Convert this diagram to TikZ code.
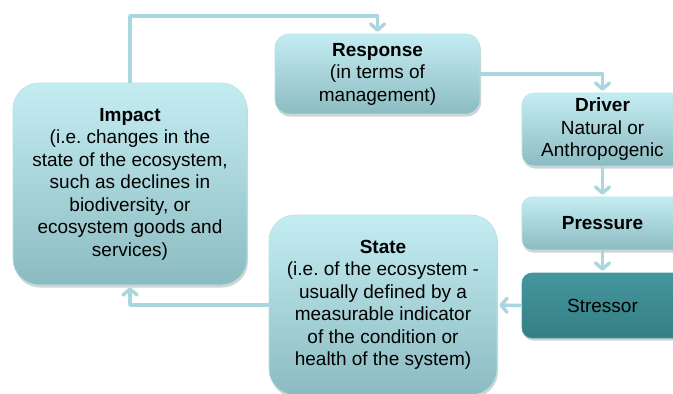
\documentclass[tikz,border=0pt]{standalone}
\usepackage{fontspec}
\setmainfont{Liberation Sans}
\usetikzlibrary{arrows.meta,shadows}
\definecolor{boxtop}{HTML}{C4EDF2}
\definecolor{boxbottom}{HTML}{8BBBC1}
\definecolor{boxedge}{HTML}{B5E2E8}
\definecolor{stresstop}{HTML}{44969C}
\definecolor{stressbottom}{HTML}{357F86}
\definecolor{flowblue}{HTML}{A9D7DF}
\frenchspacing
\tikzset{
	dpsirbox/.style={draw=boxedge, line width=0.6pt, top color=boxtop, bottom color=boxbottom,
		rounded corners=12pt, align=center, inner sep=0pt,
		font=\fontsize{19}{22.5}\selectfont,
		drop shadow={shadow xshift=1pt, shadow yshift=-2.5pt, opacity=0.35}},
	stressorbox/.style={dpsirbox, draw=stresstop, top color=stresstop, bottom color=stressbottom},
	flowarrow/.style={draw=flowblue, line width=3.5pt, line join=round,
		-{Straight Barb[length=6pt,width=14pt,round]}, shorten >=2pt}
}

\begin{document}
\begin{tikzpicture}[x=1pt,y=-1pt]
	\useasboundingbox (0,0) rectangle (673,394);
	\clip (0,0) rectangle (673,394);
	\node[dpsirbox, rounded corners=26pt, minimum width=234pt, minimum height=202pt] (impact) at (130,184)
		{\textbf{Impact}\\(i.e. changes in the\\state of the ecosystem,\\such as declines in\\biodiversity, or\\ecosystem goods and\\services)};
	\node[dpsirbox, rounded corners=14pt, minimum width=205pt, minimum height=80pt] (response) at (377.5,74)
		{\textbf{Response}\\(in terms of\\management)};
	\node[dpsirbox, minimum width=161pt, minimum height=73pt] (driver) at (602.5,129.5)
		{\textbf{Driver}\\Natural or\\Anthropogenic};
	\node[dpsirbox, rounded corners=10pt, minimum width=161pt, minimum height=53pt] (pressure) at (602.5,223.5)
		{\textbf{Pressure}};
	\node[stressorbox, rounded corners=10pt, minimum width=161pt, minimum height=65pt] (stressor) at (602.5,305.5)
		{Stressor};
	\node[dpsirbox, rounded corners=26pt, minimum width=228pt, minimum height=180pt] (state) at (383,305)
		{\textbf{State}\\(i.e. of the ecosystem -\\usually defined by a\\measurable indicator\\of the condition or\\health of the system)};
	\coordinate (toploop) at (250,16);
	\draw[flowarrow] (impact.north) |- (toploop) -| (response.north);
	\draw[flowarrow] (response.east) -| (driver.north);
	\draw[flowarrow] (driver.south) -- (pressure.north);
	\draw[flowarrow] (pressure.south) -- (stressor.north);
	\draw[flowarrow] (stressor.west) -- (state.east);
	\draw[flowarrow] (state.west) -| (impact.south);
\end{tikzpicture}
\end{document}
